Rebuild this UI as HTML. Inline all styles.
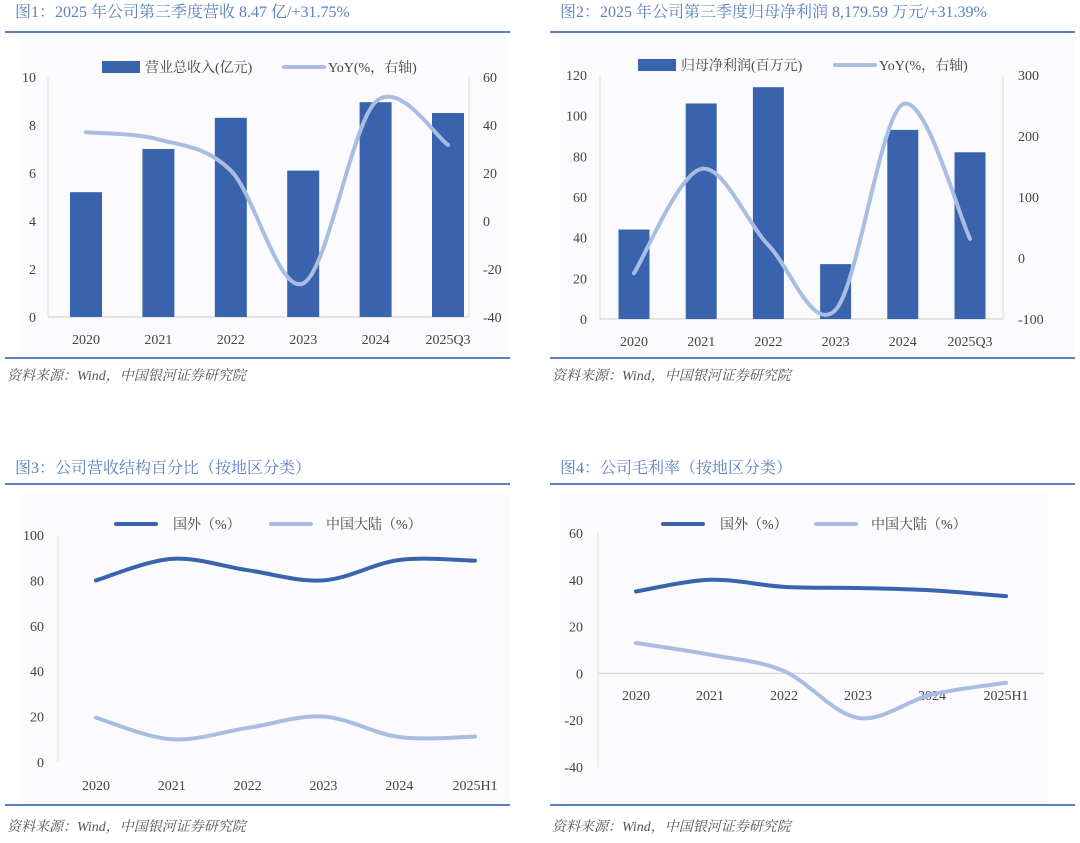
<!DOCTYPE html>
<html><head><meta charset="utf-8"><style>
body{margin:0;background:#fff;width:1080px;height:843px;overflow:hidden}
svg{display:block;font-family:"Liberation Serif","Noto Serif CJK SC",serif}
</style></head><body>
<svg id="s" width="1080" height="843" viewBox="0 0 1080 843"></svg>
<script>
// ---- data ----
const cats1 = ["2020","2021","2022","2023","2024","2025Q3"];
const revenue = [5.2,7.0,8.3,6.1,8.95,8.5];
const revenueYoY = [37,34,21,-26,49.6,31.75];
const ticksL1 = [0,2,4,6,8,10];
const ticksR1 = [-40,-20,0,20,40,60];

const cats2 = ["2020","2021","2022","2023","2024","2025Q3"];
const profit = [44,106,114,27,93,82];
const profitYoY = [-25,146,21,-85,252,31.39];
const ticksL2 = [0,20,40,60,80,100,120];
const ticksR2 = [-100,0,100,200,300];

const cats3 = ["2020","2021","2022","2023","2024","2025H1"];
const foreignShare = [80,89.5,84.5,80,89,88.7];
const mainlandShare = [19.5,10,15,20,11,11.2];
const ticks3 = [0,20,40,60,80,100];

const cats4 = ["2020","2021","2022","2023","2024","2025H1"];
const foreignGM = [35,40,37,36.5,35.5,33];
const mainlandGM = [13,8,1,-19,-9,-4];
const ticks4 = [-40,-20,0,20,40,60];

const DARK="#3a63ad", LIGHT="#a9bde3", TITLE="#5b7fc0", TXT="#444";
const S=document.getElementById('s');
function el(tag,attrs,parent){const e=document.createElementNS("http://www.w3.org/2000/svg",tag);for(const k in attrs)e.setAttribute(k,attrs[k]);(parent||S).appendChild(e);return e;}
function txt(x,y,t,attrs,parent){const e=el('text',Object.assign({x:x,y:y},attrs),parent);e.textContent=t;return e;}
function lin(d0,d1,r0,r1){return v=>r0+(v-d0)/(d1-d0)*(r1-r0);}
function smooth(pts){let d="M"+pts[0][0]+","+pts[0][1];for(let i=0;i<pts.length-1;i++){const p0=pts[i-1]||pts[i],p1=pts[i],p2=pts[i+1],p3=pts[i+2]||p2;
const c1=[p1[0]+(p2[0]-p0[0])/6,p1[1]+(p2[1]-p0[1])/6],c2=[p2[0]-(p3[0]-p1[0])/6,p2[1]-(p3[1]-p1[1])/6];d+=" C"+c1+" "+c2+" "+p2;}return d;}

function frame(x0,x1,title,lineY,titleY,srcLineY,srcY,name){
  const g=el('g',{});
  const t=txt(x0+15,titleY,title,{fill:TITLE,'font-size':16},g);
  el('line',{x1:x0+5,x2:x1,y1:lineY,y2:lineY,stroke:"#5b7fc0",'stroke-width':2},g);
  el('line',{x1:x0+5,x2:x1,y1:srcLineY,y2:srcLineY,stroke:"#5b7fc0",'stroke-width':2},g);
  const s=txt(x0+7,srcY,"资料来源：Wind，中国银河证券研究院",{fill:"#555",'font-size':14,'font-style':'italic'},g);
  return g;
}
function legendRect(g,x,y,label){const r=el('rect',{x:x,y:y-6,width:38,height:12,fill:DARK},g);txt(x+43,y+5,label,{fill:TXT,'font-size':14},g);}
function legendLine(g,x,y,w,color,label,gap){const l=el('line',{x1:x,x2:x+w,y1:y,y2:y,stroke:color,'stroke-width':4,'stroke-linecap':'round'},g);txt(x+w+gap,y+5,label,{fill:TXT,'font-size':14},g);}

function barChart(o){
  const g=frame(o.x0,o.x1,o.title,o.lineY,17,o.srcLineY,380,o.name);
  el('rect',{x:o.bgX,y:o.bgY,width:o.bgW,height:o.bgH,fill:"#fbfbfd"},g);
  el('line',{x1:o.pl,x2:o.pl,y1:o.top,y2:o.bot,stroke:"#ddd"},g);
  el('line',{x1:o.pr,x2:o.pr,y1:o.top,y2:o.bot,stroke:"#ddd"},g);
  el('line',{x1:o.pl,x2:o.pr,y1:o.bot,y2:o.bot,stroke:"#ccc"},g);
  const yl=lin(o.tl[0],o.tl[o.tl.length-1],o.bot,o.top), yr=lin(o.tr[0],o.tr[o.tr.length-1],o.bot,o.top);
  o.tl.forEach(v=>{const t=txt(o.lx,yl(v)+5,v,{fill:TXT,'font-size':14,'text-anchor':'end'},g);});
  o.tr.forEach(v=>{const t=txt(o.rx,yr(v)+5,v,{fill:TXT,'font-size':14},g);});
  const step=(o.c1-o.c0)/(o.cats.length-1), xc=i=>o.c0+i*step;
  o.cats.forEach((c,i)=>{const t=txt(xc(i),o.xly,c,{fill:TXT,'font-size':14,'text-anchor':'middle'},g);});
  o.bars.forEach((v,i)=>{const b=el('rect',{x:xc(i)-o.bw/2,y:yl(v),width:o.bw,height:o.bot-yl(v),fill:DARK},g);});
  const p=el('path',{d:smooth(o.line.map((v,i)=>[xc(i),yr(v)])),fill:'none',stroke:LIGHT,'stroke-width':4,'stroke-linecap':'round'},g);
  legendRect(g,o.lg1,o.lgy,o.l1);
  legendLine(g,o.lg2,o.lgy,40,LIGHT,"YoY(%，右轴)",4);
}
barChart({name:'figure-1-revenue',x0:0,x1:510,title:"图1：2025 年公司第三季度营收 8.47 亿/+31.75%",lineY:32,srcLineY:358,
 bgX:20,bgY:40,bgW:488,bgH:316,pl:48,pr:469,top:77,bot:317,lx:36,rx:483,c0:86,c1:448,xly:344,bw:32,
 cats:cats1,bars:revenue,line:revenueYoY,tl:ticksL1,tr:ticksR1,lg1:102,lg2:284,lgy:67,l1:"营业总收入(亿元)"});
barChart({name:'figure-2-net-profit',x0:545,x1:1075,title:"图2：2025 年公司第三季度归母净利润 8,179.59 万元/+31.39%",lineY:32,srcLineY:358,
 bgX:560,bgY:40,bgW:513,bgH:316,pl:600,pr:1003,top:75,bot:319,lx:587,rx:1018,c0:634,c1:970,xly:346,bw:31,
 cats:cats2,bars:profit,line:profitYoY,tl:ticksL2,tr:ticksR2,lg1:638,lg2:835,lgy:65,l1:"归母净利润(百万元)"});

function lineChart(o){
  const g=frame(o.x0,o.x1,o.title,484,473,805,831,o.name);
  el('rect',{x:o.bgX,y:495,width:o.bgW,height:308,fill:"#fbfbfd"},g);
  el('line',{x1:o.pl,x2:o.pl,y1:o.top,y2:o.bot,stroke:"#ddd"},g);
  const y=lin(o.t[0],o.t[o.t.length-1],o.bot,o.top);
  el('line',{x1:o.pl,x2:o.pr,y1:y(0),y2:y(0),stroke:"#ddd",'stroke-width':1.5},g);
  o.t.forEach(v=>{const t=txt(o.lx,y(v)+5,v,{fill:TXT,'font-size':14,'text-anchor':'end'},g);});
  const step=(o.c1-o.c0)/(o.cats.length-1), xc=i=>o.c0+i*step;
  o.cats.forEach((c,i)=>{const t=txt(xc(i),o.xly,c,{fill:TXT,'font-size':14,'text-anchor':'middle'},g);});
  [[o.s2,LIGHT,'mainland-line'],[o.s1,DARK,'foreign-line']].forEach(([s,c,n])=>{const p=el('path',{d:smooth(s.map((v,i)=>[xc(i),y(v)])),fill:'none',stroke:c,'stroke-width':4,'stroke-linecap':'round'},g);});
  legendLine(g,o.lg1,524,40,DARK,"国外（%）",17);
  legendLine(g,o.lg2,524,40,LIGHT,"中国大陆（%）",15);
}
lineChart({name:'figure-3-revenue-mix',x0:0,x1:510,title:"图3：公司营收结构百分比（按地区分类）",bgX:20,bgW:490,pl:58,pr:58,top:535,bot:762,lx:44,c0:96,c1:475,xly:790,
 cats:cats3,s1:foreignShare,s2:mainlandShare,t:ticks3,lg1:116,lg2:271});
lineChart({name:'figure-4-gross-margin',x0:545,x1:1075,title:"图4：公司毛利率（按地区分类）",bgX:560,bgW:488,pl:598,pr:1044,top:533,bot:767,lx:583,c0:636,c1:1006,xly:700,
 cats:cats4,s1:foreignGM,s2:mainlandGM,t:ticks4,lg1:663,lg2:816});
</script>
</body></html>
